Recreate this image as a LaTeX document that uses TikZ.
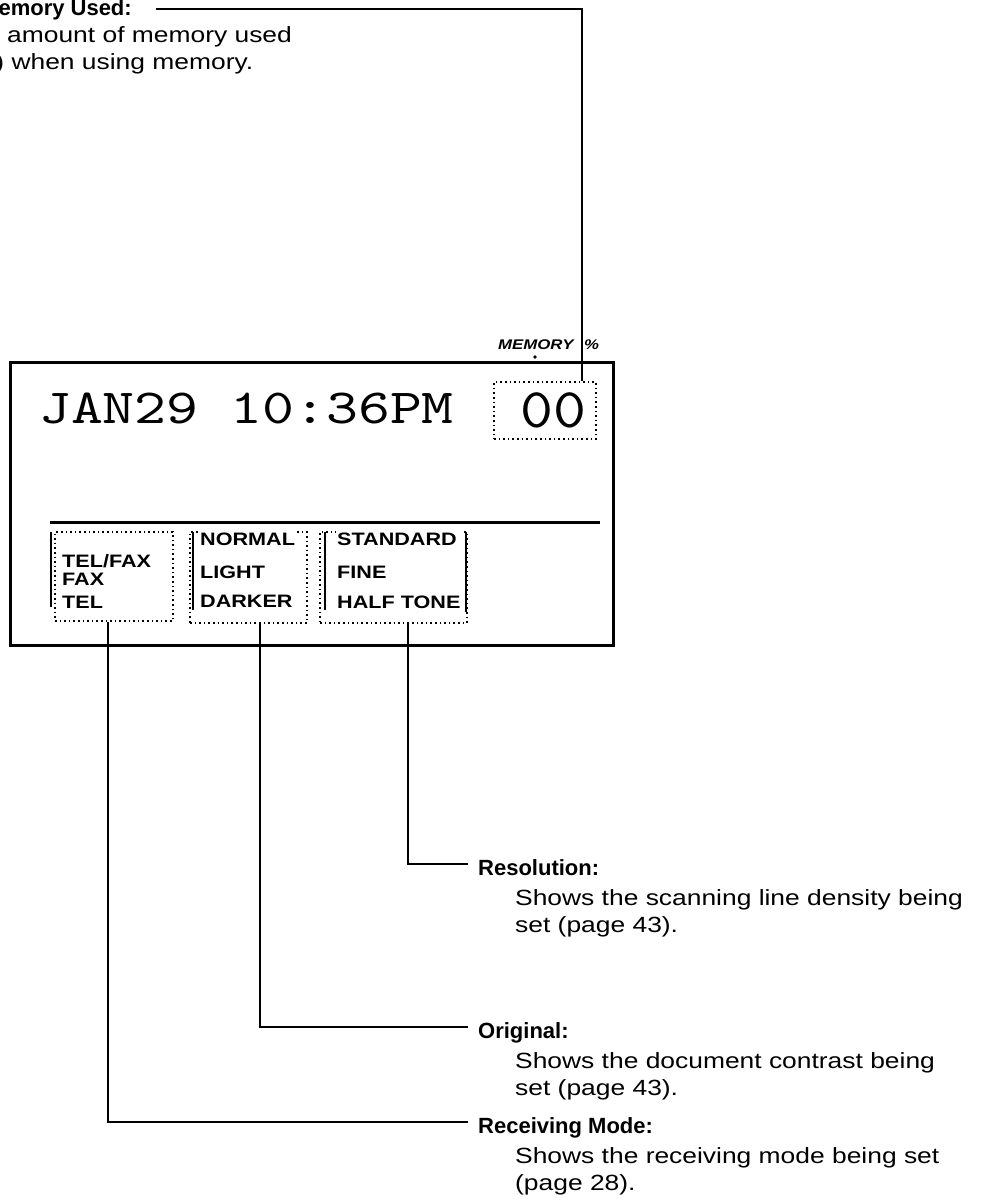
\documentclass[tikz,border=0pt]{standalone}
\usepackage{fontspec}
\setmainfont{Liberation Sans}[FakeStretch=1.2]
\newfontfamily\headfont{Liberation Sans}
\newfontfamily\lcdfont{lmmono10-regular.otf}[FakeStretch=1.24]
\newfontfamily\lcdbigfont{lmmono10-regular.otf}[FakeStretch=1.12]
\usetikzlibrary{positioning}

\begin{document}
\begin{tikzpicture}[x=1pt,y=-1pt,
  lead/.style={line width=2.2pt},
  frame/.style={line width=3pt},
  bar/.style={line width=2.6pt},
  dotbox/.style={draw,line width=1.3pt,dash pattern=on 1.6pt off 3pt,inner sep=0pt},
  head/.style={font=\headfont\fontsize{22}{27}\selectfont\bfseries,anchor=west,
               inner xsep=10pt,inner ysep=0pt,text height=22pt,text depth=0pt},
  body/.style={font=\fontsize{22}{27}\selectfont,anchor=base west,align=left,inner sep=0pt},
  panel/.style={font=\fontsize{18}{33}\selectfont\bfseries,anchor=base west,
                align=left,inner sep=1pt,fill=white}]
  \useasboundingbox (0,0) rectangle (982,1200);
  \clip (0,0) rectangle (982,1200);

  % display
  \draw[frame] (10,362) rectangle (613,645);
  \draw[frame] (50,522) -- (600,522);
  \node[font=\fontsize{14}{14}\selectfont\bfseries\itshape,anchor=base west,inner sep=0pt]
    (memlabel) at (498,349) {MEMORY};
  \node[font=\fontsize{14}{14}\selectfont\bfseries\itshape,anchor=base west,inner sep=0pt]
    (pct) at (584,349) {\%};
  \fill (535,357) circle (1.8pt);
  \node[dotbox,minimum width=102pt,minimum height=57pt] (membox) at (545,410.5) {};
  \node[font=\lcdfont\fontsize{49}{49}\selectfont,anchor=base west,inner sep=0pt]
    (clock) at (39,423) {JAN29 10:36PM};
  \node[font=\lcdbigfont\fontsize{56}{56}\selectfont,anchor=base west,inner sep=0pt]
    (memcount) at (520,427) {00};

  \node[dotbox,minimum width=118pt,minimum height=89pt] (modebox) at (114,576.5) {};
  \node[dotbox,minimum width=117pt,minimum height=91pt] (contrastbox) at (248.5,577.5) {};
  \node[dotbox,minimum width=147pt,minimum height=91pt] (resbox) at (393.5,577.5) {};
  \draw[bar] (51,532) -- (51,607);
  \draw[bar] (193,532) -- (193,610);
  \draw[bar] (325,532) -- (325,610);
  \draw[bar] (466,532) -- (466,612);
  \node[panel,font=\fontsize{18}{18}\selectfont\bfseries] (modelist) at (61,608)
    {TEL/FAX\\FAX\\[5pt]TEL};
  \node[panel] (contrastlist) at (199,607) {NORMAL\\LIGHT\\[-4pt]DARKER};
  \node[panel] (reslist) at (336,608) {STANDARD\\FINE\\[-3pt]HALF TONE};

  % callouts
  \node[head,anchor=base west,inner xsep=24pt,text height=12pt] (memhead) at (-44,15)
    {Memory Used:};
  \node[body] (memtext) at (-37,69) {the amount of memory used\\(\%) when using memory.};
  \node[head] (reshead) at (468,864) {Resolution:};
  \node[body] (restext) at (515,932) {Shows the scanning line density being\\set (page 43).};
  \node[head] (orghead) at (468,1027) {Original:};
  \node[body] (orgtext) at (515,1095) {Shows the document contrast being\\set (page 43).};
  \node[head] (modehead) at (468,1122) {Receiving Mode:};
  \node[body] (modetext) at (515,1190) {Shows the receiving mode being set\\(page 28).};

  \draw[lead] ([xshift=37pt]membox.north) |- (memhead.east);
  \draw[lead] ([xshift=14.5pt]resbox.south) |- (reshead.west);
  \draw[lead] ([xshift=11.5pt]contrastbox.south) |- (orghead.west);
  \draw[lead] ([xshift=-6pt]modebox.south) |- (modehead.west);
\end{tikzpicture}
\end{document}
